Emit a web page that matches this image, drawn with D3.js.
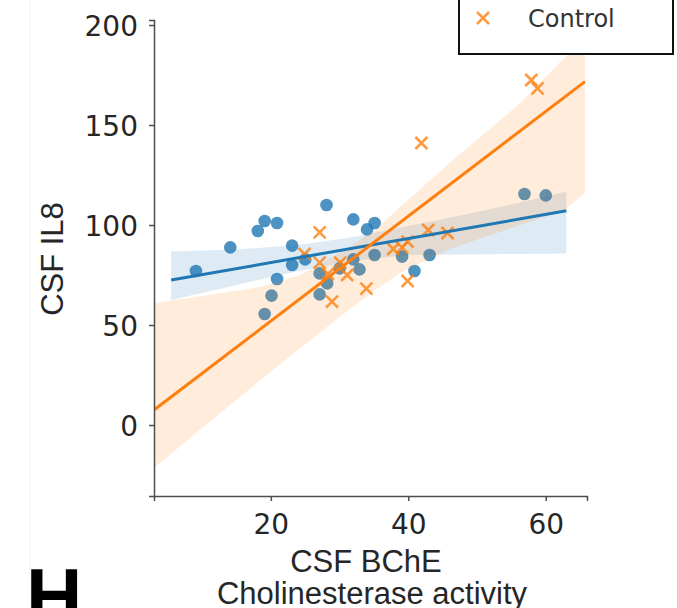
<!DOCTYPE html>
<html lang="en">
<head>
<meta charset="UTF-8">
<title>CSF IL8 vs CSF BChE</title>
<style>
  body { margin: 0; background: #fff; }
  svg { display: block; }
  .tick text { font-family: "DejaVu Sans", sans-serif; font-size: 28px; fill: #262626; }
  .axis path, .axis line { stroke: #4d4d4d; stroke-width: 1.5px; }
  .lab { font-family: "Liberation Sans", Arial, sans-serif; font-size: 31px; fill: #262626; }
</style>
</head>
<body>
<svg></svg>
<script src="https://d3js.org/d3.v7.min.js"></script>
<script>
let width = 677, height = 608;

// AD group (blue dots)
let adX = [9.1, 14.1, 18.1, 19.1, 20.9, 28.1, 32.0, 34.0, 35.1, 23.1, 23.1, 25.0, 20.9, 20.1, 19.1,
           27.1, 28.2, 27.1, 30.0, 32.0, 32.9, 35.1, 39.1, 43.1, 40.9, 56.9, 60.0];
let adY = [77, 88.8, 97, 102, 101, 110, 102.8, 97.8, 101, 89.7, 80, 82.8, 73, 64.7, 55.5,
           75.8, 70.8, 65.3, 78.3, 82.8, 77.8, 85, 84.2, 85, 77, 115.5, 114.8];

// Control group (orange crosses)
let ctrlX = [27.1, 24.9, 27.1, 30.1, 28.3, 31.1, 28.9, 33.9, 37.8, 39.1, 39.9, 39.9, 42.9, 45.7, 41.9, 57.9, 58.8];
let ctrlY = [96.3, 85.5, 81.2, 81.2, 75.5, 75, 61.7, 68.2, 88, 88.7, 91.7, 72, 97.5, 96, 141, 172.5, 168.3];

// regression lines (end points)
let adFitX = [5.5, 63], adFitY = [72.5, 107.1];
let ctrlFitX = [3, 65.7], ctrlFitY = [7.5, 171.7];

// confidence bands
let adBandX = [5.5, 15, 24, 32, 40, 48, 56, 63];
let adBandHi = [86.7, 87.8, 90, 94, 99.5, 105, 111, 116.7];
let adBandLo = [62.5, 70, 77, 82, 85, 85.3, 85.5, 85.8];

let ctrlBandX = [3, 10, 18.5, 24.3, 30, 35, 38.8, 46, 56.3, 62.5, 65.7];
let ctrlBandHi = [61, 64.5, 69, 75, 86, 97, 109, 131, 161, 183, 193];
let ctrlBandLo = [-21.5, -1.5, 22.5, 38.5, 54, 67, 76, 88, 100, 107, 116];

let xTicks = [20, 40, 60];
let yTicks = [0, 50, 100, 150, 200];
let legendLabels = ["Control"];

let blue = "#1f77b4", orange = "#ff7f0e";

let svg = d3.select("svg").attr("width", width).attr("height", height);

let x = d3.scaleLinear().domain([3, 66]).range([154, 587]);
let y = d3.scaleLinear().domain([-35.5, 202.5]).range([496, 20]);

// faint scan border on the left
svg.append("line").attr("x1", 30).attr("x2", 30).attr("y1", 0).attr("y2", height)
    .attr("stroke", "#f2f2f2").attr("stroke-width", 1);

svg.append("clipPath").attr("id", "plot")
  .append("rect").attr("x", 154).attr("y", 0).attr("width", 433).attr("height", 496);

let g = svg.append("g").attr("clip-path", "url(#plot)");

let band = d3.area()
    .x(d => x(d[0]))
    .y0(d => y(d[1]))
    .y1(d => y(d[2]));

let line = d3.line().x(d => x(d[0])).y(d => y(d[1]));

let cross = "M-6,-6L6,6M-6,6L6,-6";

// AD scatter
g.append("g").selectAll("circle")
  .data(adX.map((v, i) => [v, adY[i]]))
  .join("circle")
    .attr("cx", d => x(d[0]))
    .attr("cy", d => y(d[1]))
    .attr("r", 6.3)
    .attr("fill", blue)
    .attr("fill-opacity", 0.8);

// AD band
g.append("path")
  .datum(adBandX.map((v, i) => [v, adBandLo[i], adBandHi[i]]))
  .attr("d", band)
  .attr("fill", blue)
  .attr("fill-opacity", 0.15);

// Control scatter
g.append("g").selectAll("path")
  .data(ctrlX.map((v, i) => [v, ctrlY[i]]))
  .join("path")
    .attr("transform", d => `translate(${x(d[0])},${y(d[1])})`)
    .attr("d", cross)
    .attr("stroke", orange)
    .attr("stroke-opacity", 0.8)
    .attr("stroke-width", 2.5)
    .attr("fill", "none");

// Control band
g.append("path")
  .datum(ctrlBandX.map((v, i) => [v, ctrlBandLo[i], ctrlBandHi[i]]))
  .attr("d", band)
  .attr("fill", orange)
  .attr("fill-opacity", 0.15);

// fit lines
g.append("path")
  .datum(adFitX.map((v, i) => [v, adFitY[i]]))
  .attr("d", line)
  .attr("stroke", blue).attr("stroke-width", 3).attr("fill", "none");

g.append("path")
  .datum(ctrlFitX.map((v, i) => [v, ctrlFitY[i]]))
  .attr("d", line)
  .attr("stroke", orange).attr("stroke-width", 3).attr("fill", "none");

// axes
svg.append("g")
    .attr("class", "axis")
    .attr("transform", "translate(0,496)")
    .call(d3.axisBottom(x).tickValues(xTicks).tickSize(5).tickPadding(8))
    .call(a => a.selectAll(".tick text").attr("dy", "0.9em"));

svg.append("g")
    .attr("class", "axis")
    .attr("transform", "translate(154,0)")
    .call(d3.axisLeft(y).tickValues(yTicks).tickSize(5).tickPadding(11))
    .call(a => a.selectAll(".tick text").attr("dy", "0.36em"));

// axis labels
svg.append("text").attr("class", "lab")
    .attr("transform", "translate(63,259) rotate(-90)")
    .attr("text-anchor", "middle")
    .text("CSF IL8");

svg.append("text").attr("class", "lab")
    .attr("x", 366).attr("y", 572)
    .attr("text-anchor", "middle")
    .text("CSF BChE");

svg.append("text").attr("class", "lab")
    .attr("x", 372).attr("y", 604)
    .attr("text-anchor", "middle")
    .text("Cholinesterase activity");

// panel letter, cut by the bottom edge
svg.append("text")
    .attr("x", 26).attr("y", 623)
    .attr("font-family", "Liberation Sans, Arial, sans-serif")
    .attr("font-weight", "bold")
    .attr("font-size", 78)
    .attr("fill", "#000")
    .text("H");

// legend (top part is outside the picture)
let lg = svg.append("g");
lg.append("rect")
    .attr("x", 459).attr("y", -20).attr("width", 214).attr("height", 74)
    .attr("fill", "#fff").attr("stroke", "#111").attr("stroke-width", 2);
lg.selectAll("path.mk")
  .data(legendLabels)
  .join("path")
    .attr("class", "mk")
    .attr("transform", "translate(483,18)")
    .attr("d", cross)
    .attr("stroke", orange).attr("stroke-opacity", 0.8)
    .attr("stroke-width", 2.5).attr("fill", "none");
lg.selectAll("text")
  .data(legendLabels)
  .join("text")
    .attr("x", 528).attr("y", 27)
    .attr("font-family", "DejaVu Sans, sans-serif")
    .attr("font-size", 24)
    .attr("fill", "#333")
    .text(d => d);
</script>
</body>
</html>
